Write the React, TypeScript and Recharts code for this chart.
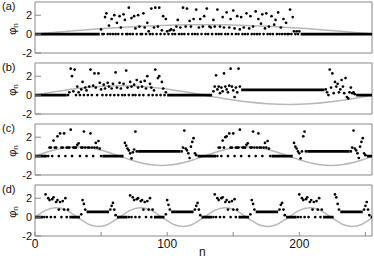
import { ComposedChart, XAxis, YAxis, Line, Scatter, ReferenceArea } from 'recharts';

const N_TICKS = [0, 50, 100, 150, 200, 250];
const PHI_TICKS = [-2, 0, 2];
const N_DOMAIN = [0, 255];
const PHI_DOMAIN = [-2, 3.4];

// (a) gray reference curve, sampled every 16 sites
const A_CURVE_STEP = 16;
const A_CURVE = [0, 0.2, 0.38, 0.56, 0.71, 0.83, 0.92, 0.98, 1, 0.98, 0.92, 0.83, 0.71, 0.56, 0.38, 0.2, 0];
// flat runs: [from, to, value]
const A_FLAT = [[0, 49, 0], [201, 255, 0]];
const A_STARTS = [50];
const A_DOTS_1 = [
  0.5, 0, 0, 1.8, 2.2, 0, 0.9, 0, 1.6, 0,
  2.0, 0, 1.2, 0, 1.9, 0.7, 0, 2.1, 1.5, 0,
  0, 2.8, 0, 1.7, 0, 1.9, 0.6, 0, 2.0, 0.8,
  0, 0, 2.2, 0.7, 0, 1.2, 0.3, 0, 2.7, 0,
  0.7, 2.8, 0, 0.8, 2.8, 0, 0.4, 1.9, 0, 1.6,
  0.3, 0, 0.4, 0.5, 0, 0.4, 0, 0.8, 1.5, 0,
  0.7, 0, 2.8, 0, 0.8, 2.7, 0, 1.4, 0.8, 0,
  1.6, 0, 2.6, 0, 0.7, 1.6, 0, 0.8, 1.9, 0,
  2.7, 0, 0.8, 0.7, 0, 1.5, 0.8, 0, 2.6, 0,
  0.8, 0, 1.8, 0.7, 0, 2.3, 0, 0.7, 1.6, 0,
  2.5, 0.6, 0, 1.9, 0, 0.5, 1.8, 0, 0.7, 0,
  2.2, 0, 0.6, 1.9, 0, 0.8, 0, 2.4, 0, 1.6,
  0, 1.1, 2.1, 0, 0.6, 2.2, 0, 0.8, 0, 1.9,
  0, 1.0, 1.5, 0, 2.3, 0, 0.7, 0, 1.6, 0,
  1.2, 0, 0, 2.6, 0, 1.8, 0.3, 0, 0.3, 0,
  0.3,
];

// (b)
const B_CURVE_STEP = 16;
const B_CURVE = [0, 0.38, 0.71, 0.92, 1, 0.92, 0.71, 0.38, 0, -0.38, -0.71, -0.92, -1, -0.92, -0.71, -0.38, 0];
const B_FLAT = [[0, 24, 0], [100, 134, 0], [156, 219, 0.55], [243, 255, 0]];
const B_STARTS = [25, 135, 220];
const B_DOTS_1 = [
  0, 0.3, 2.8, 2.0, 0.4, 2.7, 0, 0.9, 0.3, 0,
  0.6, 1.4, 0, 0.8, 0.5, 0, 0.9, 2.7, 0, 1.0,
  2.3, 0.8, 0, 2.3, 1.3, 0.6, 0, 1.1, 0.7, 0,
  1.3, 0.9, 0, 0.7, 1.2, 0, 2.4, 0.8, 0, 1.3,
  0.7, 0, 1.2, 0, 2.6, 0.8, 0, 1.4, 0.9, 0,
  1.1, 0, 1.6, 0.8, 0, 1.4, 0.9, 0, 1.5, 0.7,
  2.0, 0, 1.2, 0.8, 0, 0.5, 2.7, 0, 1.8, 2.0,
  0, 1.4, 0.7, 0, 0.3,
];
const B_DOTS_2 = [0.4, 0.9, 2.1, 0.6, 0.9, 0.2, 0.8, 0.4, 2.3, 0.9, 0.6, 0.3, 1.0, 2.8, 0.9, 0.5, -0.2, 0.8, 0.3, 2.8, 0.9];
const B_DOTS_3 = [0.6, 0.3, 0, 2.7, 0.8, 2.3, 0.2, 1.4, 0.9, 1.2, 0.3, 0.6, 1.6, 0.9, 0.2, 1.8, -0.2, -0.35, 0.3, 0.8, 0.2, 0.3, 0.1];

// (c)
const C_CURVE_STEP = 8;
const C_CURVE = [
  0, 0.38, 0.71, 0.92, 1, 0.92, 0.71, 0.38, 0, -0.38, -0.71, -0.92, -1, -0.92, -0.71, -0.38,
  0, 0.38, 0.71, 0.92, 1, 0.92, 0.71, 0.38, 0, -0.38, -0.71, -0.92, -1, -0.92, -0.71, -0.38, 0,
];
const C_FLAT = [[0, 9, 0], [51, 67, 0], [78, 110, 0.5], [123, 137, 0], [179, 195, 0], [206, 238, 0.5], [251, 255, 0]];
const C_STARTS = [10, 68, 111, 138, 196, 239];
const C_DOTS_1 = [
  0, 0.9, 0.9, 0, 1.65, 0.9, 0.9, 2.1, 0, 2.4,
  0.9, 0.9, 2.4, 0, 0.9, 0.9, 0.9, 2.8, 0, 0.9,
  0.9, 0.9, 1.2, 1.35, 0, 0.9, 0.9, 2.6, 0.9, 0,
  0.9, 0.9, 2.4, 0.9, 0, 0.9, 1.4, 0.9, 1.6, 0.8, 0,
];
const C_DOTS_2 = [1.4, 1.1, 0.8, 0.6, 0.3, -0.25, 0.4, 0.7, 2.6, 0.5];
const C_DOTS_3 = [0.5, 0.9, 2.7, 0.8, 0.6, 0.3, -0.2, 1.0, 1.5, 1.9, 0.3, 0.1];
const C_DOTS_4 = [
  0, 0.9, 0.9, 0, 1.65, 0.9, 2.0, 2.1, 0, 2.4,
  0.9, 0.9, 2.4, 0, 0.9, 0.9, 0.9, 2.8, 0, 0.9,
  0.9, 0.9, 1.2, 1.35, 0, 0.9, 0.9, 2.6, 0.9, 0,
  0.9, 2.4, 0.9, 0.9, 0, 0.9, 1.4, 0.9, 1.6, 0.8, 0,
];
const C_DOTS_5 = [1.4, 1.0, 0.8, 0.5, 0.3, -0.25, 0.5, 2.1, 2.6, 0.5];
const C_DOTS_6 = [0.5, 0.9, 2.7, 0.8, 0.6, 0.3, -0.2, 1.0, 1.5, 1.9, 0.3, 0.1];

// (d)
const D_CURVE_STEP = 4;
const D_CURVE = [
  0, 0.38, 0.71, 0.92, 1, 0.92, 0.71, 0.38, 0, -0.38, -0.71, -0.92, -1, -0.92, -0.71, -0.38,
  0, 0.38, 0.71, 0.92, 1, 0.92, 0.71, 0.38, 0, -0.38, -0.71, -0.92, -1, -0.92, -0.71, -0.38,
  0, 0.38, 0.71, 0.92, 1, 0.92, 0.71, 0.38, 0, -0.38, -0.71, -0.92, -1, -0.92, -0.71, -0.38,
  0, 0.38, 0.71, 0.92, 1, 0.92, 0.71, 0.38, 0, -0.38, -0.71, -0.92, -1, -0.92, -0.71, -0.38, 0,
];
const D_FLAT = [
  [0, 6, 0], [26, 34, 0], [39, 56, 0.55], [62, 70, 0], [90, 98, 0], [103, 120, 0.55],
  [126, 134, 0], [154, 162, 0], [167, 184, 0.55], [190, 198, 0], [218, 226, 0], [231, 248, 0.55], [254, 255, 0],
];
const D_STARTS = [7, 35, 57, 71, 99, 121, 135, 163, 185, 199, 227, 249];
const D_DOTS_1 = [0, 2.4, 0, 2.0, 1.8, 0, 1.9, 2.1, 0, 1.6, 1.8, 0.8, 1.6, 0, 1.7, 0.8, 2.0, 0, 0.8];
const D_DOTS_2 = [0.3, 1.8, 1.4, 0.8];
const D_DOTS_3 = [0.8, 1.2, 1.5, 0.8, 0.2];
const D_DOTS_4 = [0, 2.3, 0, 2.1, 1.8, 0, 1.9, 2.0, 0, 1.7, 1.8, 0.8, 1.6, 0, 1.7, 0.8, 2.0, 0, 0.8];
const D_DOTS_5 = [0.3, 1.8, 1.3, 0.8];
const D_DOTS_6 = [0.8, 1.2, 1.5, 0.8, 0.2];
const D_DOTS_7 = [0, 2.4, 0, 2.0, 1.8, 0, 2.0, 2.1, 0, 1.6, 1.8, 0.8, 1.6, 0, 1.7, 0.8, 1.9, 0, 0.8];
const D_DOTS_8 = [0.3, 1.8, 1.4, 0.8];
const D_DOTS_9 = [0.8, 1.3, 1.5, 0.8, 0.2];
const D_DOTS_10 = [0, 2.4, 0, 2.0, 1.8, 0, 1.9, 2.1, 0, 1.6, 1.8, 0.8, 1.6, 0, 1.7, 0.8, 2.0, 0, 0.8];
const D_DOTS_11 = [2.4, 2.1, 1.4, 0.8];
const D_DOTS_12 = [0.8, 1.2, 1.6, 0.8, 0.2];

const FRAME = '#888';
const CURVE = '#b8b8b8';

const toDots = (starts: number[], blocks: number[][]) =>
  blocks.flatMap((vals, k) => vals.map((v, i) => ({ n: starts[k] + i, v })));
const toFlat = (runs: number[][]) =>
  runs.flatMap(([a, b, v]) => [{ n: a, v }, { n: b, v }, { n: b + 0.5, v: null }]);
const toCurve = (step: number, vals: number[]) => vals.map((s, i) => ({ n: i * step, s }));

const panels = [
  {
    tag: '(a)',
    curve: toCurve(A_CURVE_STEP, A_CURVE),
    flat: toFlat(A_FLAT),
    dots: toDots(A_STARTS, [A_DOTS_1]),
  },
  {
    tag: '(b)',
    curve: toCurve(B_CURVE_STEP, B_CURVE),
    flat: toFlat(B_FLAT),
    dots: toDots(B_STARTS, [B_DOTS_1, B_DOTS_2, B_DOTS_3]),
  },
  {
    tag: '(c)',
    curve: toCurve(C_CURVE_STEP, C_CURVE),
    flat: toFlat(C_FLAT),
    dots: toDots(C_STARTS, [C_DOTS_1, C_DOTS_2, C_DOTS_3, C_DOTS_4, C_DOTS_5, C_DOTS_6]),
  },
  {
    tag: '(d)',
    curve: toCurve(D_CURVE_STEP, D_CURVE),
    flat: toFlat(D_FLAT),
    dots: toDots(D_STARTS, [
      D_DOTS_1, D_DOTS_2, D_DOTS_3, D_DOTS_4, D_DOTS_5, D_DOTS_6,
      D_DOTS_7, D_DOTS_8, D_DOTS_9, D_DOTS_10, D_DOTS_11, D_DOTS_12,
    ]),
  },
];

const Dot = (p: any) => <circle cx={p.cx} cy={p.cy} r={1.35} fill="#000" />;

function Panel({ top, tag, curve, flat, dots, last }: any) {
  const h = last ? 77 : 61;
  return (
    <div style={{ position: 'absolute', left: 0, top, width: 374, height: h }}>
      <ComposedChart width={374} height={h} margin={{ top: 2, right: 2, bottom: 0, left: 0 }}>
        <XAxis
          type="number"
          dataKey="n"
          domain={N_DOMAIN}
          ticks={N_TICKS}
          interval={0}
          allowDataOverflow
          height={last ? 24 : 8}
          axisLine={false}
          tickLine={{ stroke: FRAME }}
          tickSize={-4}
          tickMargin={last ? 7 : 0}
          tick={last ? { fontSize: 12, fill: '#111' } : false}
          tickFormatter={(v: number) => (v % 100 === 0 ? String(v) : '')}
        />
        <YAxis
          type="number"
          domain={PHI_DOMAIN}
          ticks={PHI_TICKS}
          interval={0}
          allowDataOverflow
          width={35}
          axisLine={false}
          tickLine={{ stroke: FRAME }}
          tickSize={-6}
          tickMargin={9}
          tick={{ fontSize: 11, fill: '#111' }}
        />
        <Line data={curve} dataKey="s" type="natural" stroke={CURVE} strokeWidth={1.5} dot={false} activeDot={false} isAnimationActive={false} />
        <Line data={flat} dataKey="v" type="linear" stroke="#000" strokeWidth={2.8} dot={false} activeDot={false} isAnimationActive={false} />
        <Scatter data={dots} dataKey="v" shape={Dot} isAnimationActive={false} />
        <ReferenceArea x1={0} x2={255} y1={-2} y2={3.4} fill="none" stroke={FRAME} strokeWidth={1} ifOverflow="visible" />
      </ComposedChart>
      <div style={{ position: 'absolute', left: 2, top: 0, fontSize: 11, lineHeight: '13px' }}>{tag}</div>
      <div
        style={{
          position: 'absolute',
          left: 14,
          top: 29,
          fontSize: 11,
          lineHeight: '12px',
          whiteSpace: 'nowrap',
          transform: 'translate(-50%, -50%) rotate(-90deg)',
        }}
      >
        φ<sub style={{ fontSize: 8, verticalAlign: '-2px' }}>n</sub>
      </div>
    </div>
  );
}

export default function App() {
  return (
    <div
      style={{
        position: 'absolute',
        left: 0,
        top: 0,
        width: 374,
        height: 260,
        background: '#fff',
        color: '#111',
        fontFamily: '"Liberation Sans", Arial, sans-serif',
      }}
    >
      {panels.map((p, i) => (
        <Panel key={p.tag} top={i * 61} {...p} last={i === panels.length - 1} />
      ))}
      <div style={{ position: 'absolute', left: 199, top: 246, fontSize: 12, lineHeight: '12px' }}>n</div>
    </div>
  );
}
